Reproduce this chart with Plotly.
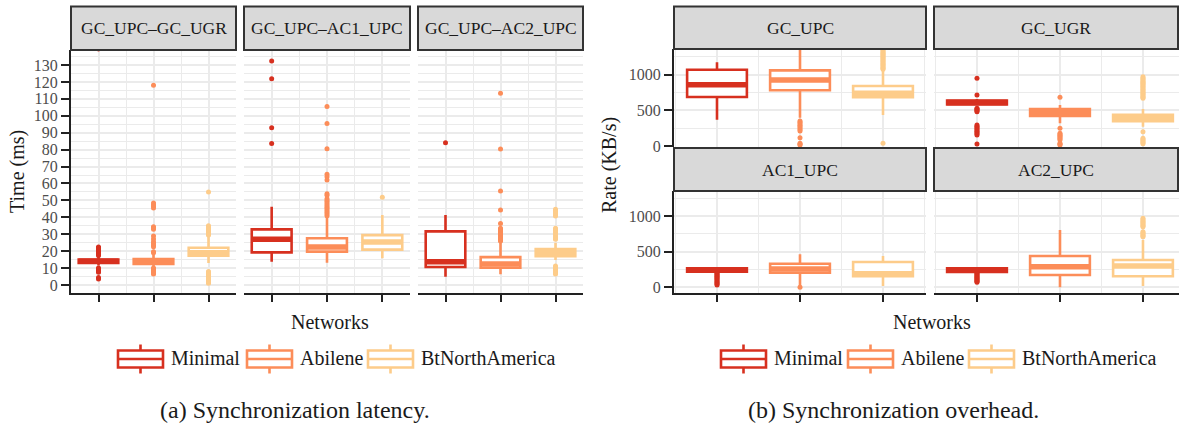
import plotly.graph_objects as go

W, H = 1179, 426
FONT = "Liberation Serif"

# ---------------- data ----------------
networks = ["Minimal", "Abilene", "BtNorthAmerica"]
net_colors = ["#D7301F", "#FC8D59", "#FDCC8A"]
net_pos = [1, 2, 3]

# (a) Synchronization latency (ms); rows = facets, cols = networks
lat_facets = ["GC_UPC–GC_UGR", "GC_UPC–AC1_UPC", "GC_UPC–AC2_UPC"]
lat_q1 = [[13.0, 12.5, 17.3], [19.3, 19.7, 20.9], [10.6, 10.2, 17.0]]
lat_med = [[14.0, 14.0, 19.0], [27.0, 22.5, 25.4], [13.8, 12.4, 19.0]]
lat_q3 = [[15.0, 15.3, 22.0], [32.9, 27.6, 29.5], [31.7, 16.5, 21.3]]
lat_lo = [[11.5, 10.5, 13.0], [13.8, 13.2, 15.8], [4.9, 6.3, 14.8]]
lat_hi = [[17.0, 18.0, 28.5], [46.3, 40.4, 41.4], [41.4, 25.6, 25.0]]
lat_out = [
    [
        [139.5, 22.5, 22, 21.5, 21, 20.5, 20, 19.5, 19, 18.5, 18, 17.5,
         10, 9.5, 9, 8.5, 8, 7.5, 4.5, 3.5],
        [118, 48.5, 47.5, 46.5, 45.5, 34.5, 33.8, 33, 29, 27.2, 25.6, 24.5,
         23.5, 22.6, 19.7, 19, 10, 9.5, 9, 8.5, 8, 7.5, 7, 6.5],
        [55, 35, 34.5, 34, 33.5, 33, 32.5, 32, 31.5, 31, 30.5, 30, 29.5,
         8, 7.5, 7, 6.5, 6, 5.5, 5, 4.5, 4, 3.5, 3, 2.5, 2, 1.5, 1],
    ],
    [
        [132.4, 121.9, 93, 83.7],
        [105.5, 95.5, 80.5, 65.5, 64, 62, 54, 53, 51, 50, 49, 48, 47, 46,
         45, 44, 43, 42, 41],
        [51.8],
    ],
    [
        [84.1],
        [113.3, 80.4, 55.6, 44.3, 36.4, 33.5, 33, 32.5, 32, 31.5, 31, 30.5,
         30, 29.5, 29, 28.5, 28, 27.5, 27, 26.5, 26],
        [44.7, 44, 43.3, 42.5, 41.5, 40.8, 33.5, 33, 32.5, 32, 31, 30, 29,
         28, 27.5, 27, 11.2, 10.5, 10, 9.5, 9, 8.5, 8, 7.5, 7, 6.5],
    ],
]

# (b) Synchronization overhead (KB/s)
rate_facets = ["GC_UPC", "GC_UGR", "AC1_UPC", "AC2_UPC"]
rate_q1 = [[689, 782, 684], [585, 425, 350], [220, 205, 155], [215, 172, 154]]
rate_med = [[861, 926, 740], [610, 470, 395], [245, 255, 190], [240, 289, 299]]
rate_q3 = [[1070, 1061, 842], [640, 520, 440], [265, 331, 355], [265, 439, 383]]
rate_lo = [[372, 400, 437], [565, 321, 274], [205, 8, 18], [205, 0, 18]]
rate_hi = [[1173, 1400, 1060], [660, 577, 520], [280, 463, 439], [280, 804, 663]]
rate_out = [
    [
        [],
        [353, 335, 315, 295, 275, 255, 235, 214, 120, 42, 30, 18],
        [1345, 1330, 1315, 1300, 1285, 1270, 1255, 1240, 1225, 1210, 1195,
         1180, 1165, 1150, 1135, 1120, 1105, 1090, 1075, 42],
    ],
    [
        [950, 716, 531, 520, 507, 495, 483, 297, 280, 262, 245, 228, 210,
         192, 175, 158, 32],
        [684, 251, 181, 165, 150, 135, 120, 105, 88, 42, 30, 18],
        [972, 955, 940, 925, 910, 895, 880, 865, 850, 835, 820, 805, 790,
         775, 760, 745, 730, 715, 700, 685, 670, 204, 112, 95, 80, 65, 50, 35],
    ],
    [
        [196, 185, 172, 160, 148, 135, 120, 105, 90, 75, 60, 45, 32],
        [0],
        [],
    ],
    [
        [196, 185, 172, 160, 148, 135, 122, 110, 97, 85, 72],
        [],
        [967, 950, 935, 920, 905, 890, 875, 860, 850, 780, 765, 750, 735,
         720, 710],
    ],
]

# ---------------- helpers ----------------
def fx(px):
    return px / W


def fy(py):
    return 1 - py / H


BOX_W = 0.72
GRID = "#EBEBEB"
AXC = "#222222"
TICKC = "#4D4D4D"
TXT = "#1A1A1A"

fig = go.Figure()


def add_group(xa, ya, q1, med, q3, lo, hi, outs):
    for j, name in enumerate(networks):
        c = net_colors[j]
        p = net_pos[j]
        fig.add_trace(go.Box(
            x=[p], q1=[q1[j]], median=[med[j]], q3=[q3[j]],
            lowerfence=[lo[j]], upperfence=[hi[j]],
            width=BOX_W, whiskerwidth=0, fillcolor="white",
            line=dict(color=c, width=2.6), boxpoints=False,
            xaxis=xa, yaxis=ya, showlegend=False, name=name,
        ))
        fig.add_trace(go.Scatter(
            x=[p - BOX_W / 2, p + BOX_W / 2], y=[med[j], med[j]],
            mode="lines", line=dict(color=c, width=5.5),
            xaxis=xa, yaxis=ya, showlegend=False, hoverinfo="skip",
        ))
        if outs[j]:
            fig.add_trace(go.Scatter(
                x=[p] * len(outs[j]), y=outs[j], mode="markers",
                marker=dict(color=c, size=5, line=dict(width=0)),
                xaxis=xa, yaxis=ya, showlegend=False, hoverinfo="skip",
            ))


# left panel: axes 1..3 ; right panel: axes 4..7
for i in range(3):
    add_group("x" if i == 0 else f"x{i+1}", "y" if i == 0 else f"y{i+1}",
              lat_q1[i], lat_med[i], lat_q3[i], lat_lo[i], lat_hi[i], lat_out[i])
for i in range(4):
    k = i + 4
    add_group(f"x{k}", f"y{k}", rate_q1[i], rate_med[i], rate_q3[i],
              rate_lo[i], rate_hi[i], rate_out[i])

# ---------------- axes ----------------
def xaxis(dom, rng, anchor, bottom=True):
    return dict(
        domain=[fx(dom[0]), fx(dom[1])], range=rng, anchor=anchor,
        automargin=False,
        tickmode="linear", tick0=1, dtick=1, showticklabels=False,
        ticks="outside" if bottom else "", ticklen=7, tickwidth=1.5, tickcolor=AXC,
        showgrid=True, gridcolor=GRID, gridwidth=1.6,
        minor=dict(tickmode="linear", tick0=0.5, dtick=0.5, showgrid=True,
                   gridcolor=GRID, gridwidth=1.1),
        zeroline=False, showline=bottom, linecolor=AXC, linewidth=2,
        fixedrange=True,
    )


def yaxis(dom, rng, anchor, dtick, mdtick, labels=True):
    return dict(
        domain=[fy(dom[1]), fy(dom[0])], range=rng, anchor=anchor,
        automargin=False,
        tickmode="linear", tick0=0, dtick=dtick, showticklabels=labels,
        ticks="outside" if labels else "", ticklen=8, tickwidth=1.5, tickcolor=AXC,
        tickfont=dict(family=FONT, size=16, color=TICKC),
        showgrid=True, gridcolor=GRID, gridwidth=1.6,
        minor=dict(tickmode="linear", tick0=0, dtick=mdtick, showgrid=True,
                   gridcolor=GRID, gridwidth=1.1),
        zeroline=False, showline=labels, linecolor=AXC, linewidth=2,
        fixedrange=True,
    )


lat_x_px = [[71, 236], [244, 410], [418, 583]]
lat_y_px = [50, 293]
lat_range = [-4.73, 138.9]

rate_x_px = [[674, 926], [934, 1179], [674, 926], [934, 1179]]
rate_y_px = [[49, 147], [49, 147], [191, 293], [191, 293]]
rate_x_rng = [[0.482, 3.518], [0.482, 3.434], [0.482, 3.518], [0.482, 3.434]]
rate_y_rng = [[-10, 1359], [-10, 1359], [-80, 1351], [-80, 1351]]

layout_axes = {}
for i in range(3):
    xs = "xaxis" if i == 0 else f"xaxis{i+1}"
    ys = "yaxis" if i == 0 else f"yaxis{i+1}"
    layout_axes[xs] = xaxis(lat_x_px[i], [0.5, 3.5], "y" if i == 0 else f"y{i+1}")
    layout_axes[ys] = yaxis(lat_y_px, lat_range, "x" if i == 0 else f"x{i+1}",
                            10, 5, labels=(i == 0))
for i in range(4):
    k = i + 4
    layout_axes[f"xaxis{k}"] = xaxis(rate_x_px[i], rate_x_rng[i], f"y{k}",
                                     bottom=(i >= 2))
    layout_axes[f"yaxis{k}"] = yaxis(rate_y_px[i], rate_y_rng[i], f"x{k}",
                                     500, 250, labels=(i % 2 == 0))

# ---------------- strips, titles, legends ----------------
shapes = []
annotations = []


def strip(x0, x1, y0, y1, label):
    shapes.append(dict(type="rect", xref="paper", yref="paper",
                       x0=fx(x0), x1=fx(x1), y0=fy(y1), y1=fy(y0),
                       fillcolor="#D9D9D9", line=dict(color="#333333", width=2),
                       layer="above"))
    annotations.append(dict(x=fx((x0 + x1) / 2), y=fy((y0 + y1) / 2),
                            xref="paper", yref="paper", text=label, showarrow=False,
                            xanchor="center", yanchor="middle",
                            font=dict(family=FONT, size=17.5, color=TXT)))


for i in range(3):
    strip(lat_x_px[i][0], lat_x_px[i][1], 6.5, 50, lat_facets[i])
rate_strip_y = [[6.5, 49], [6.5, 49], [148, 191], [148, 191]]
for i in range(4):
    strip(rate_x_px[i][0], min(rate_x_px[i][1], 1178), rate_strip_y[i][0],
          rate_strip_y[i][1], rate_facets[i])


def text(x, y, s, size, angle=0, anchor="center"):
    annotations.append(dict(x=fx(x), y=fy(y), xref="paper", yref="paper",
                            text=s, showarrow=False, textangle=angle,
                            xanchor=anchor, yanchor="middle",
                            font=dict(family=FONT, size=size, color=TXT)))


text(17, 172, "Time (ms)", 20, angle=-90)
text(610, 165, "Rate (KB/s)", 20, angle=-90)
text(330, 322, "Networks", 20)
text(932, 322, "Networks", 20)
text(295, 410, "(a) Synchronization latency.", 24)
text(893, 410, "(b) Synchronization overhead.", 24)


def legend_icons(xs):
    for j, name in enumerate(networks):
        c = net_colors[j]
        x0 = xs[j]
        x1 = x0 + 45
        xc = (x0 + x1) / 2
        shapes.append(dict(type="rect", xref="paper", yref="paper",
                           x0=fx(x0), x1=fx(x1), y0=fy(367.5), y1=fy(350.5),
                           fillcolor="white", line=dict(color=c, width=2.6)))
        shapes.append(dict(type="line", xref="paper", yref="paper",
                           x0=fx(x0), x1=fx(x1), y0=fy(359), y1=fy(359),
                           line=dict(color=c, width=2.6)))
        shapes.append(dict(type="line", xref="paper", yref="paper",
                           x0=fx(xc), x1=fx(xc), y0=fy(344.5), y1=fy(350.5),
                           line=dict(color=c, width=2.6)))
        shapes.append(dict(type="line", xref="paper", yref="paper",
                           x0=fx(xc), x1=fx(xc), y0=fy(367.5), y1=fy(373.5),
                           line=dict(color=c, width=2.6)))
        text(x1 + 6, 358, name, 20, anchor="left")


legend_icons([118, 247, 368])
legend_icons([721, 848, 969])

fig.update_layout(
    template="none",
    width=W, height=H, autosize=False,
    margin=dict(l=0, r=0, t=0, b=0, pad=0),
    paper_bgcolor="white", plot_bgcolor="white",
    boxmode="overlay", showlegend=False,
    font=dict(family=FONT, color=TXT),
    shapes=shapes, annotations=annotations,
    **layout_axes,
)

fig.write_html("out.html", config={"displayModeBar": False},
               post_script="document.body.style.margin='0px';")
